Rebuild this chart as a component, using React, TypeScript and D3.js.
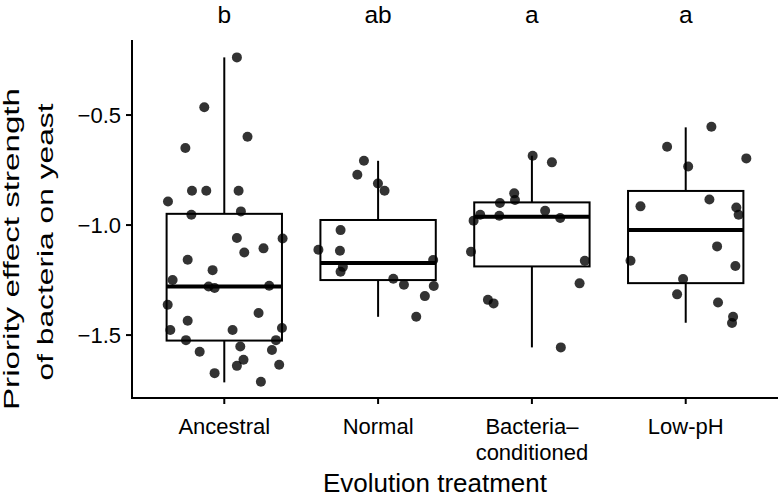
import React from 'react'
import * as d3 from 'd3'

// treatment groups, in axis order
const categories = ['Ancestral', 'Normal', 'Bacteria–conditioned', 'Low-pH']
const tickLabelLines = [['Ancestral'], ['Normal'], ['Bacteria–', 'conditioned'], ['Low-pH']]
const letters = ['b', 'ab', 'a', 'a']
const yTicks = [-1.5, -1.0, -0.5]

// box summaries
const lowerWhisker = [-1.715, -1.417, -1.556, -1.444]
const lowerHinge = [-1.525, -1.25, -1.188, -1.264]
const medians = [-1.279, -1.173, -0.962, -1.023]
const upperHinge = [-0.949, -0.977, -0.897, -0.845]
const upperWhisker = [-0.238, -0.708, -0.685, -0.556]

// raw points + their horizontal jitter (in category units)
const ancestral = [
  -0.238, -0.465, -0.599, -0.65, -0.844, -0.844, -0.844, -0.893, -0.953, -0.938,
  -1.059, -1.061, -1.125, -1.106, -1.158, -1.205, -1.25, -1.279, -1.286, -1.276,
  -1.362, -1.4, -1.435, -1.477, -1.477, -1.468, -1.523, -1.523, -1.552, -1.576,
  -1.568, -1.612, -1.64, -1.635, -1.673, -1.712,
]
const ancestralJitter = [
  0.082, -0.13, 0.151, -0.253, -0.21, -0.117, 0.093, -0.366, -0.214, 0.108,
  0.082, 0.379, 0.13, 0.255, -0.238, -0.076, -0.336, -0.102, -0.063, 0.292,
  -0.368, 0.223, -0.238, -0.351, 0.054, 0.375, -0.249, 0.336, 0.104, -0.16,
  0.31, 0.125, 0.082, 0.357, -0.063, 0.238,
]
const normal = [
  -0.708, -0.771, -0.811, -0.844, -1.023, -1.112, -1.117, -1.159, -1.19, -1.212,
  -1.244, -1.271, -1.277, -1.323, -1.417,
]
const normalJitter = [
  -0.092, -0.135, -0.001, 0.042, -0.244, -0.388, -0.248, 0.358, -0.229, -0.244,
  0.099, 0.168, 0.362, 0.304, 0.248,
]
const bacteria = [
  -0.685, -0.715, -0.856, -0.886, -0.9, -0.935, -0.953, -0.958, -0.968, -0.98,
  -1.121, -1.162, -1.265, -1.34, -1.356, -1.556,
]
const bacteriaJitter = [
  0.005, 0.13, -0.115, -0.11, -0.208, 0.086, -0.336, -0.212, 0.184, -0.379,
  -0.396, 0.344, 0.31, -0.286, -0.249, 0.188,
]
const lowPH = [
  -0.553, -0.644, -0.697, -0.734, -0.915, -0.884, -0.92, -0.953, -1.097, -1.162,
  -1.186, -1.245, -1.315, -1.352, -1.417, -1.445,
]
const lowPHJitter = [
  0.167, -0.121, 0.394, 0.016, -0.294, 0.154, 0.329, 0.344, 0.204, -0.359,
  0.323, -0.017, -0.056, 0.21, 0.308, 0.301,
]

const groupValues = [ancestral, normal, bacteria, lowPH]
const groupJitter = [ancestralJitter, normalJitter, bacteriaJitter, lowPHJitter]

const width = 782
const height = 498
const margin = { top: 40, right: 4, bottom: 100, left: 132 }
const font = '"Liberation Sans", Arial, Helvetica, sans-serif'

export default function App() {
  const x = d3
    .scaleLinear()
    .domain([0.4, categories.length + 0.6])
    .range([margin.left, width - margin.right])
  const y = d3
    .scaleLinear()
    .domain([-1.786, -0.159])
    .range([height - margin.bottom, margin.top])

  const unit = x(2) - x(1)
  const halfBox = unit * 0.375
  const fmt = d3.format('.1f')

  const points = groupValues.flatMap((vals, gi) =>
    vals.map((v, i) => ({ g: gi, v, j: groupJitter[gi][i] }))
  )

  return (
    <svg
      width={width}
      height={height}
      style={{ position: 'absolute', left: 0, top: 0, background: '#fff' }}
      fontFamily={font}
    >
      {/* significance letters */}
      {letters.map((l, i) => (
        <text key={`let-${i}`} x={x(i + 1)} y={23} textAnchor="middle" fontSize={24.5} fill="#000">
          {l}
        </text>
      ))}

      {/* boxes */}
      {categories.map((c, i) => {
        const cx = x(i + 1)
        return (
          <g key={`box-${c}`} stroke="#000">
            <line x1={cx} x2={cx} y1={y(upperWhisker[i])} y2={y(upperHinge[i])} strokeWidth={2} />
            <line x1={cx} x2={cx} y1={y(lowerHinge[i])} y2={y(lowerWhisker[i])} strokeWidth={2} />
            <rect
              x={cx - halfBox}
              y={y(upperHinge[i])}
              width={halfBox * 2}
              height={y(lowerHinge[i]) - y(upperHinge[i])}
              fill="#fff"
              strokeWidth={2}
            />
            <line x1={cx - halfBox} x2={cx + halfBox} y1={y(medians[i])} y2={y(medians[i])} strokeWidth={4} />
          </g>
        )
      })}

      {/* jittered points */}
      {points.map((p, i) => (
        <circle key={`pt-${i}`} cx={x(p.g + 1 + p.j)} cy={y(p.v)} r={5} fill="#000" fillOpacity={0.8} />
      ))}

      {/* y axis */}
      <line x1={margin.left} x2={margin.left} y1={margin.top} y2={height - margin.bottom + 1} stroke="#000" strokeWidth={2} />
      {yTicks.map((t) => (
        <g key={`yt-${t}`}>
          <line x1={margin.left - 6} x2={margin.left} y1={y(t)} y2={y(t)} stroke="#000" strokeWidth={2} />
          <text x={margin.left - 11} y={y(t)} dy="0.36em" textAnchor="end" fontSize={22} fill="#000">
            {fmt(t)}
          </text>
        </g>
      ))}

      {/* x axis */}
      <line x1={margin.left - 1} x2={width - margin.right} y1={height - margin.bottom} y2={height - margin.bottom} stroke="#000" strokeWidth={2} />
      {categories.map((c, i) => (
        <g key={`xt-${c}`}>
          <line x1={x(i + 1)} x2={x(i + 1)} y1={height - margin.bottom} y2={height - margin.bottom + 6} stroke="#000" strokeWidth={2} />
          {tickLabelLines[i].map((ln, k) => (
            <text key={k} x={x(i + 1)} y={434 + k * 26} textAnchor="middle" fontSize={22} fill="#000">
              {ln}
            </text>
          ))}
        </g>
      ))}

      {/* axis titles */}
      <text x={435} y={491.5} textAnchor="middle" fontSize={26} fill="#000">
        Evolution treatment
      </text>
      <text
        transform="translate(19,249) rotate(-90)"
        textAnchor="middle"
        fontSize={22}
        textLength={322}
        lengthAdjust="spacingAndGlyphs"
        fill="#000"
      >
        Priority effect strength
      </text>
      <text
        transform="translate(53,242) rotate(-90)"
        textAnchor="middle"
        fontSize={22}
        textLength={277}
        lengthAdjust="spacingAndGlyphs"
        fill="#000"
      >
        of bacteria on yeast
      </text>
    </svg>
  )
}
